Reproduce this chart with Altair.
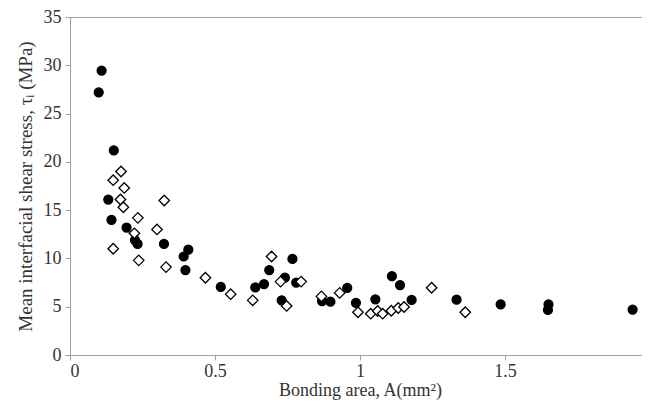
import altair as alt
import pandas as pd

# 3 Fibers model composite (filled circles)
a3 = [0.109, 0.099, 0.151, 0.132, 0.143, 0.195, 0.224, 0.233, 0.324, 0.408, 0.392,
      0.398, 0.520, 0.639, 0.669, 0.687, 0.767, 0.741, 0.780, 0.730, 0.869, 0.898,
      0.956, 0.986, 1.053, 1.110, 1.138, 1.178, 1.333, 1.485, 1.650, 1.648, 1.940]
t3 = [29.45, 27.2, 21.2, 16.1, 14.0, 13.2, 11.9, 11.5, 11.5, 10.9, 10.2,
      8.8, 7.05, 7.0, 7.34, 8.8, 9.95, 8.0, 7.5, 5.66, 5.59, 5.52,
      6.96, 5.41, 5.76, 8.16, 7.24, 5.7, 5.73, 5.25, 5.25, 4.67, 4.7]

# 4 Fibers model composite (open diamonds)
a4 = [0.176, 0.149, 0.187, 0.174, 0.184, 0.325, 0.234, 0.300, 0.222, 0.149, 0.237,
      0.331, 0.467, 0.554, 0.630, 0.695, 0.726, 0.797, 0.747, 0.867, 0.930, 0.993,
      1.037, 1.061, 1.078, 1.108, 1.132, 1.152, 1.247, 1.363]
t4 = [19.0, 18.1, 17.3, 16.1, 15.3, 16.0, 14.2, 13.0, 12.6, 11.0, 9.8,
      9.1, 8.0, 6.3, 5.66, 10.2, 7.6, 7.6, 5.08, 6.07, 6.43, 4.43,
      4.28, 4.56, 4.28, 4.58, 4.87, 4.97, 6.96, 4.43]

series = ["3 Fibers model composite", "4 Fibers model composite"]

x_ticks = [0, 0.5, 1, 1.5, 2]
y_ticks = [0, 5, 10, 15, 20, 25, 30, 35]

df = pd.DataFrame({
    "area": a3 + a4,
    "tau": t3 + t4,
    "series": [series[0]] * len(a3) + [series[1]] * len(a4),
})

FONT = "Liberation Serif"
AX = "#a0a0a0"
TXT = "#333333"
W, H = 580, 338


def leg():
    return alt.Legend(title=None, orient="none", legendX=348, legendY=10,
                      labelFont=FONT, labelFontSize=19, labelColor="black",
                      strokeColor="#999", padding=5, rowPadding=4,
                      symbolSize=70, symbolStrokeWidth=1.3, symbolStrokeColor="black",
                      labelLimit=400)


chart = alt.Chart(df).mark_point(filled=True, opacity=1, strokeWidth=1.3, color="black").encode(
    x=alt.X("area:Q", scale=alt.Scale(domain=[0, 2], nice=False),
            axis=alt.Axis(values=x_ticks, title="Bonding area, A(mm²)", grid=False,
                          domainColor=AX, tickColor=AX, tickSize=5, labelPadding=2,
                          labelFont=FONT, labelFontSize=18, labelColor=TXT,
                          titleFont=FONT, titleFontSize=18, titleFontWeight="normal",
                          titleColor=TXT, titlePadding=1,
                          labelExpr="datum.value")),
    y=alt.Y("tau:Q", scale=alt.Scale(domain=[0, 35], nice=False),
            axis=alt.Axis(values=y_ticks, title="Mean interfacial shear stress, τᵢ (MPa)",
                          grid=False, domainColor=AX, tickColor=AX, tickSize=5,
                          labelPadding=4, labelFont=FONT, labelFontSize=18, labelColor=TXT,
                          titleFont=FONT, titleFontSize=19, titleFontWeight="normal",
                          titleColor=TXT, titlePadding=8)),
    shape=alt.Shape("series:N", scale=alt.Scale(domain=series, range=["circle", "diamond"]),
                    legend=leg()),
    fill=alt.Fill("series:N", scale=alt.Scale(domain=series, range=["black", "white"]),
                  legend=leg()),
    stroke=alt.value("black"),
    size=alt.Size("series:N", scale=alt.Scale(domain=series, range=[80, 110]), legend=None),
).properties(
    width=W, height=H,
    autosize=alt.AutoSizeParams(type="none"),
    padding={"left": 62, "top": 9, "right": -8, "bottom": 45},
    background="white",
).configure_view(stroke=AX)

chart.save("out.html", embed_options={"renderer": "svg", "actions": False})
